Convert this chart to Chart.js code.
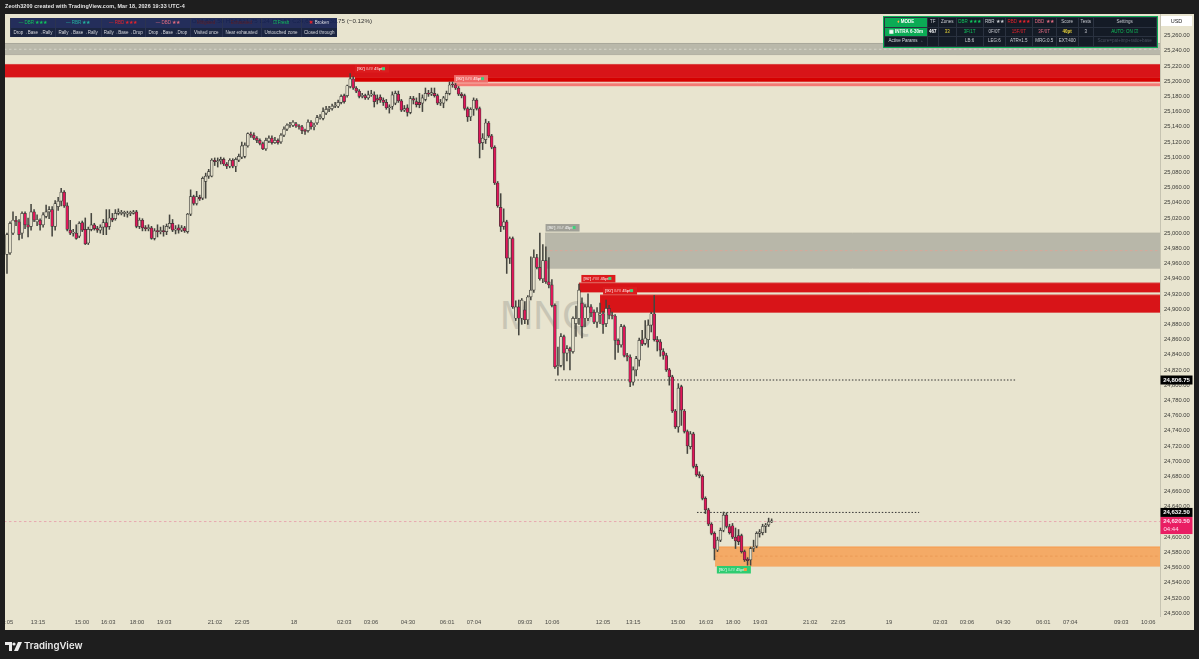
<!DOCTYPE html>
<html>
<head>
<meta charset="utf-8">
<script src="https://cdn.jsdelivr.net/npm/chart.js@4/dist/chart.umd.min.js"></script>
<style>
html,body{margin:0;padding:0;background:#1e1e1e;width:1199px;height:659px;overflow:hidden}
body{font-family:"Liberation Sans",Arial,sans-serif}
#pane{position:absolute;left:5px;top:14px;width:1189px;height:616px;background:#e8e4cf}
#mark{position:absolute;left:500px;top:293px;font:40px "Liberation Sans";color:#a9a89c;opacity:.5}
canvas{position:absolute;left:0;top:0}
#title{position:absolute;left:5px;top:3px;font:bold 5.4px "Liberation Sans";color:#e6e6e6;white-space:nowrap;letter-spacing:.02em}
#ohlc{position:absolute;right:827px;top:17px;font:6.2px "Liberation Sans";color:#333;white-space:nowrap}
#usd{position:absolute;left:1161px;top:16px;width:31px;height:10px;background:#fff;font:5.5px/10px "Liberation Sans";text-align:center;color:#222}
table{position:absolute;border-collapse:collapse;table-layout:fixed;font:4.5px/8px "Liberation Sans";text-align:center;color:#c9ccd2}
td{padding:0;overflow:hidden;white-space:nowrap}
#legend{left:10px;top:18px;width:327px;background:rgba(20,32,82,.93)}
#legend td{height:9.7px;border-left:1px solid #2b3350}
#legend tr:nth-child(2){background:#1b2540;font-size:4.5px;color:#d6d8dd}
#info{left:884px;top:17px;width:272px;background:#141b26;outline:1px solid #0bab55}
#info td{height:8.6px;border:1px solid #2a3240}
.g{color:#10c45c}.r{color:#e3222c}.p{color:#e06a80}.y{color:#f0d93a}.d{color:#5c1e26}.t{color:#23b2a0}.dim{color:#4b5160}
.m{background:#0bab55;color:#fff;font-weight:bold}
#logo{position:absolute;left:5px;top:640px;color:#ececec;font:600 9.6px/12px "Inter","Liberation Sans";white-space:nowrap}
#logo svg{position:absolute;left:0;top:2px}
#logo span{position:absolute;left:19px;top:0}
</style>
</head>
<body>
<div id="pane"></div>
<div id="mark">MNQ</div>
<canvas id="chart" width="1199" height="659"></canvas>
<div id="title">Zeoth3200 created with TradingView.com, Mar 18, 2026 19:33 UTC-4</div>
<div id="ohlc">O24,620.50 H24,621.75 L24,619.50 C24,620.50 −30.75 (−0.12%)</div>
<div id="usd">USD</div>
<table id="legend">
<colgroup><col style="width:45px"><col style="width:45.5px"><col style="width:44.5px"><col style="width:45px"><col style="width:31.5px"><col style="width:39px"><col style="width:40px"><col style="width:36px"></colgroup>
<tr><td class="g">— DBR ★★★</td><td class="t">— RBR ★★</td><td class="r">— RBD ★★★</td><td class="p">— DBD ★★</td><td class="d">Mitigated</td><td class="d">Exhausted</td><td class="g">☑ Fresh</td><td style="color:#d8d8e0"><span class="r">✖</span> Broken</td></tr>
<tr><td>Drop→Base→Rally</td><td>Rally→Base→Rally</td><td>Rally→Base→Drop</td><td>Drop→Base→Drop</td><td>Visited once</td><td>Near exhausted</td><td>Untouched zone</td><td>Closed through</td></tr>
</table>
<table id="info">
<colgroup><col style="width:42.7px"><col style="width:11px"><col style="width:18px"><col style="width:27px"><col style="width:22.3px"><col style="width:26.7px"><col style="width:24px"><col style="width:22px"><col style="width:15px"><col style="width:63px"></colgroup>
<tr><td class="m"><span style="color:#ffb347">♦</span> MODE</td><td>TF</td><td>Zones</td><td class="g">DBR ★★★</td><td>RBR ★★</td><td class="r">RBD ★★★</td><td class="p">DBD ★★</td><td>Score</td><td>Tests</td><td>Settings</td></tr>
<tr><td class="m">▦ INTRA 6-30m</td><td style="color:#fff;font-weight:bold">467</td><td class="y">33</td><td class="g">3F/1T</td><td>0F/0T</td><td class="r">15F/0T</td><td class="p">3F/0T</td><td class="y" style="font-weight:bold">40pt</td><td>3</td><td class="g">AUTO: ON ☑</td></tr>
<tr><td style="color:#d8dce0">Active Params →</td><td></td><td></td><td>LB:6</td><td>LEG:6</td><td>ATR×1.5</td><td>MRG:0.5</td><td>EXT:400</td><td></td><td class="dim">Score=pat+imp+ratio+base</td></tr>
</table>
<div id="logo"><svg width="17" height="10" viewBox="0 0 17 10"><path fill="#ececec" d="M0 0h7v9H4V3H0zM13 0h4l-4 9H9z"/><circle cx="9" cy="2" r="1.6" fill="#ececec"/></svg><span>TradingView</span></div>
<script>
const opens = [
24972,24974,25000,25017,25015,25000,25026,25011,25009,25028,
25015,25017,25011,25022,25028,25031,25009,25035,25042,25054,
25036,25004,25000,25000,24996,25014,25005,24987,25005,25011,
25006,25004,25008,25014,25009,25020,25019,25026,25026,25026,
25025,25026,25026,25028,25009,25017,25007,25006,25007,24993,
25003,25002,25003,25002,25008,25013,25004,25007,25004,25007,
25002,25025,25048,25039,25047,25046,25068,25075,25075,25096,
25094,25095,25097,25091,25088,25096,25088,25096,25100,25101,
25115,25130,25129,25125,25122,25118,25111,25121,25125,25119,
25122,25120,25129,25137,25142,25142,25144,25141,25140,25135,
25135,25146,25140,25145,25152,25151,25158,25163,25164,25167,
25167,25172,25181,25181,25193,25203,25191,25187,25180,25181,
25178,25182,25182,25177,25179,25175,25172,25165,25167,25171,
25183,25174,25162,25165,25159,25177,25173,25172,25171,25176,
25184,25183,25184,25181,25171,25171,25176,25184,25196,25195,
25191,25183,25181,25164,25153,25163,25175,25164,25119,25123,
25145,25128,25113,25066,25034,25009,25015,24967,24993,24888,
24903,24888,24899,24886,24916,24925,24968,24955,24940,24964,
24936,24932,24905,24824,24826,24864,24842,24848,24844,24881,
24888,24908,24888,24888,24903,24896,24883,24892,24894,24881,
24901,24892,24891,24859,24853,24877,24839,24837,24804,24820,
24833,24860,24855,24860,24879,24894,24860,24857,24844,24839,
24820,24811,24766,24745,24798,24766,24739,24719,24736,24693,
24682,24680,24651,24636,24617,24605,24583,24596,24609,24629,
24614,24615,24600,24602,24602,24581,24571,24570,24585,24588,
24605,24606,24614,24616,24620
];
const highs = [
25000,25015,25028,25022,25018,25028,25028,25020,25038,25031,
25024,25019,25027,25037,25035,25035,25043,25047,25059,25056,
25040,25017,25005,25011,25015,25016,25020,25008,25026,25013,
25009,25011,25018,25031,25031,25026,25031,25032,25030,25029,
25029,25029,25030,25030,25020,25019,25010,25011,25009,25006,
25011,25008,25010,25012,25024,25018,25010,25011,25010,25009,
25026,25057,25050,25055,25050,25074,25079,25084,25098,25099,
25099,25100,25099,25093,25098,25098,25099,25104,25120,25119,
25132,25133,25132,25127,25124,25120,25125,25128,25128,25126,
25124,25131,25140,25144,25146,25148,25146,25143,25142,25137,
25149,25148,25145,25155,25156,25165,25167,25167,25170,25172,
25175,25182,25183,25195,25210,25206,25193,25189,25184,25183,
25187,25188,25186,25182,25182,25178,25176,25169,25186,25187,
25187,25176,25168,25169,25180,25180,25178,25184,25182,25191,
25188,25191,25191,25183,25176,25180,25187,25199,25199,25197,
25193,25185,25183,25166,25165,25178,25177,25166,25131,25150,
25147,25130,25115,25068,25052,25032,25017,24995,24995,24911,
24912,24914,24910,24918,24969,24978,24972,25000,24985,24982,
24968,24939,24907,24850,24868,24866,24852,24850,24890,24904,
24933,24915,24906,24920,24906,24899,24902,24908,24897,24912,
24905,24896,24893,24861,24880,24879,24842,24840,24824,24838,
24862,24872,24885,24886,24896,24918,24864,24860,24848,24842,
24822,24813,24768,24802,24800,24768,24741,24739,24738,24696,
24686,24682,24653,24638,24619,24607,24600,24612,24633,24632,
24617,24618,24612,24610,24604,24583,24573,24587,24596,24607,
24610,24617,24618,24625,24624
];
const lows = [
24947,24972,24998,25010,24991,24993,25006,24995,25004,25015,
25010,25004,25008,25020,25019,24996,25004,25030,25036,25034,
25003,24998,24996,24992,24994,25002,24985,24985,25003,25004,
25001,25000,24998,24998,25005,25015,25017,25024,25024,25022,
25021,25023,25025,25007,25006,25003,25003,25003,24992,24991,
24995,24999,24996,24998,25006,25002,24999,25000,25002,25001,
25000,25023,25037,25037,25043,25044,25046,25072,25074,25089,
25087,25091,25089,25085,25086,25086,25081,25094,25098,25099,
25113,25126,25123,25119,25116,25110,25109,25119,25117,25118,
25117,25118,25127,25135,25139,25140,25139,25137,25131,25130,
25133,25137,25136,25143,25150,25149,25156,25160,25162,25165,
25165,25170,25171,25179,25191,25189,25185,25178,25178,25176,
25176,25180,25166,25170,25172,25168,25163,25158,25163,25169,
25172,25160,25160,25154,25157,25170,25166,25165,25160,25174,
25180,25181,25179,25169,25168,25165,25174,25182,25192,25189,
25181,25178,25162,25147,25148,25155,25162,25099,25110,25118,
25126,25111,25064,25034,25002,25005,24947,24960,24901,24885,
24866,24880,24881,24880,24912,24922,24953,24938,24935,24934,
24928,24903,24822,24813,24824,24820,24832,24820,24842,24864,
24880,24862,24877,24885,24890,24881,24876,24881,24868,24877,
24887,24887,24834,24843,24850,24837,24832,24798,24800,24812,
24825,24852,24853,24850,24870,24858,24845,24838,24834,24818,
24800,24764,24743,24738,24747,24737,24710,24716,24691,24680,
24678,24649,24631,24615,24603,24570,24581,24594,24607,24612,
24604,24598,24585,24590,24579,24568,24563,24563,24581,24586,
24600,24603,24606,24614,24619
];
const closes = [
24998,25013,25017,25015,24998,25026,25011,25008,25028,25017,
25018,25011,25024,25028,25031,25009,25039,25042,25054,25036,
25005,25000,25001,24993,25013,25004,24986,25005,25011,25006,
25004,25008,25014,25008,25020,25017,25026,25028,25027,25026,
25026,25026,25028,25009,25017,25007,25006,25007,24993,25003,
25002,25003,25002,25009,25013,25004,25005,25004,25007,25003,
25025,25048,25039,25048,25045,25072,25075,25081,25096,25094,
25095,25097,25091,25088,25096,25088,25097,25101,25115,25116,
25131,25129,25125,25122,25118,25111,25122,25125,25119,25122,
25119,25129,25137,25142,25143,25146,25141,25140,25135,25134,
25146,25140,25142,25152,25153,25160,25163,25164,25167,25168,
25172,25180,25173,25194,25203,25191,25187,25180,25181,25178,
25182,25182,25173,25175,25175,25172,25165,25165,25182,25184,
25174,25162,25164,25159,25177,25175,25169,25169,25178,25184,
25183,25185,25181,25171,25172,25178,25184,25195,25195,25191,
25183,25181,25164,25153,25163,25175,25164,25118,25125,25145,
25128,25113,25066,25036,25009,25015,24967,24993,24903,24903,
24888,24912,24886,24916,24925,24968,24955,24940,24964,24936,
24932,24905,24824,24826,24864,24842,24848,24845,24888,24888,
24925,24877,24903,24903,24895,24883,24896,24894,24880,24901,
24892,24891,24859,24853,24877,24839,24837,24804,24820,24835,
24859,24854,24862,24879,24894,24860,24857,24846,24839,24820,
24811,24766,24745,24796,24767,24739,24720,24736,24693,24682,
24681,24651,24636,24617,24605,24585,24596,24609,24629,24614,
24606,24600,24595,24594,24581,24570,24569,24585,24587,24605,
24607,24614,24616,24620,24621
];

const yTicks = [25260,25240,25220,25200,25180,25160,25140,25120,25100,25080,25060,25040,25020,25000,24980,24960,24940,24920,24900,24880,24860,24840,24820,24800,24780,24760,24740,24720,24700,24680,24660,24640,24620,24600,24580,24560,24540,24520,24500];
const timeLabels = [":05","13:15","15:00","16:03","18:00","19:03","21:02","22:05","18","02:03","03:06","04:30","06:01","07:04","09:03","10:06","12:05","13:15","15:00","16:03","18:00","19:03","21:02","22:05","19","02:03","03:06","04:30","06:01","07:04","09:03","10:06"];
const timeSlots = [0.7,10.3,24.9,33.6,43.2,52.2,69.1,78.1,95.3,112,120.9,133.2,146.2,155.1,172.1,181.1,198,208,222.9,232.2,241.2,250.2,266.8,276.1,293,310,318.9,330.9,344.2,353.2,370.1,379.1];

// supply / demand zones: slot where it starts, top and bottom price
const zoneStart  = [-1,-1,115.6,148.5,178.7,190,197,235.2];
const zoneTop    = [25249.6,25222,25211,25197.6,25000,24934.4,24918.6,24587];
const zoneBottom = [25235,25205.5,25200,25193.7,24954,24922.6,24896,24562];
const zoneFill   = ['#b9b8aa','#d81418','#d60000','#f37a74','#b8b7a9','#d81418','#d81418','#f4aa66'];
const zoneEdge   = ['#a9a89b','#d9403f','#d60000','#f9b0a8','#b0afa2','#d9403f','#d9403f','#f7994a'];

// dashed and dotted levels: from, to, price
const levelFrom  = [-1,178.7,235.2,182,229.2,-1];
const levelTo    = [383,383,383,335.2,303,383];
const levelPrice = [25242,24977,24575,24806.75,24632.5,24620.5];
const levelColor = ['#d3d2c6','#d9a79a','#eb9a55','#333333','#333333','#e8a8b0'];

// little zone tags: slot, price of box top
const tagSlot  = [115.6,148.5,178.9,190.8,198,235.8];
const tagPrice = [25221,25208,25012,24945,24929,24562];
const tagFill  = ['#dc1c1e','#f06a68','#a0a097','#dc1c1e','#dc1c1e','#2ecc71'];
const tagText  = "[90'] ### 45pt";

// price scale labels
const axisPrices = [24806.75,24632.5,24620.5];
const axisColors = ['#000000','#000000','#e91e63'];

const lastTimer = '04:44';
const fmt = v => v.toLocaleString('en-US',{minimumFractionDigits:2,maximumFractionDigits:2});

const zoneSets = [];
zoneStart.forEach((s,i)=>{
  zoneSets.push({type:'line',order:9,data:[{x:s,y:zoneTop[i]},{x:383,y:zoneTop[i]}],borderColor:zoneEdge[i],borderWidth:1,pointRadius:0,backgroundColor:zoneFill[i],fill:{value:zoneBottom[i]}});
  zoneSets.push({type:'line',order:9,data:[{x:s,y:zoneBottom[i]},{x:383,y:zoneBottom[i]}],borderColor:zoneEdge[i],borderWidth:1,pointRadius:0,fill:false});
});
const levelSets = levelPrice.map((p,i)=>({type:'line',order:8,data:[{x:levelFrom[i],y:p},{x:levelTo[i],y:p}],borderColor:levelColor[i],borderWidth:1,borderDash:i>2&&i<5?[1.5,1.8]:[2.5,2.5],pointRadius:0,fill:false}));

const slots = opens.map((_,i)=>i);

const tagsPlugin = {
  id:'tags',
  afterDatasetsDraw(c){
    const {ctx,scales:{x,y}} = c;
    ctx.save();
    ctx.textBaseline='middle';
    tagSlot.forEach((s,i)=>{
      const px=x.getPixelForValue(s), py=y.getPixelForValue(tagPrice[i]);
      ctx.fillStyle=tagFill[i];
      ctx.fillRect(px,py,34,7.5);
      ctx.fillStyle='#fff';
      ctx.font='4.2px "Liberation Sans"';
      ctx.textAlign='left';
      ctx.fillText(tagText,px+2,py+3.8);
      ctx.fillStyle=i==5?'#f0a040':'#3fd07a';
      ctx.fillRect(px+27,py+2,3,3);
    });
    axisPrices.forEach((p,i)=>{
      const py=y.getPixelForValue(p);
      const h=i==2?17:9;
      ctx.fillStyle=axisColors[i];
      ctx.fillRect(1160.5,py-4.5,32,h);
      ctx.fillStyle=i==2?'#fde':'#fff';
      ctx.font='bold 6px "Liberation Sans"';
      ctx.textAlign='center';
      ctx.fillText(fmt(p),1176.5,py);
      if(i==2){ ctx.font='6px "Liberation Sans"'; ctx.fillText(lastTimer,1171,py+8); }
    });
    ctx.restore();
  }
};

new Chart(document.getElementById('chart'),{
  type:'bar',
  data:{datasets:[
    ...zoneSets,
    ...levelSets,
    {label:'wick',order:2,data:slots.map(i=>({x:i,y:[lows[i],highs[i]]})),backgroundColor:'#45453f',barThickness:0.9,grouped:false},
    {label:'body',order:1,data:slots.map(i=>({x:i,y:[opens[i],closes[i]]})),
      backgroundColor:slots.map(i=>closes[i]<opens[i]?'#e2165a':'#e4e0cb'),
      borderColor:'#3a3a36',borderWidth:0.7,borderSkipped:false,barThickness:2.8,minBarLength:1,grouped:false}
  ]},
  options:{
    responsive:false,animation:false,
    layout:{padding:{left:5,top:14,right:7,bottom:29}},
    plugins:{legend:{display:false},tooltip:{enabled:false}},
    scales:{
      x:{type:'linear',offset:false,min:-0.66,max:383,grid:{display:false,drawTicks:false},border:{display:false},
        afterBuildTicks(s){s.ticks=timeSlots.map(v=>({value:v}));},
        afterFit(s){s.height=14;},
        ticks:{autoSkip:false,maxRotation:0,padding:3,color:'#4a4a46',font:{size:5.8,family:'Liberation Sans'},callback:(v,i)=>timeLabels[i]}},
      y:{position:'right',min:24496.2,max:25288.4,grid:{display:false,drawTicks:false},border:{color:'#c6c3b1'},
        afterBuildTicks(s){s.ticks=yTicks.map(v=>({value:v}));},
        afterFit(s){s.width=32;},
        ticks:{autoSkip:false,padding:4,color:'#3a3a36',font:{size:5.8,family:'Liberation Sans'},callback:v=>fmt(v)}}
    }
  },
  plugins:[tagsPlugin]
});
</script>
</body>
</html>
